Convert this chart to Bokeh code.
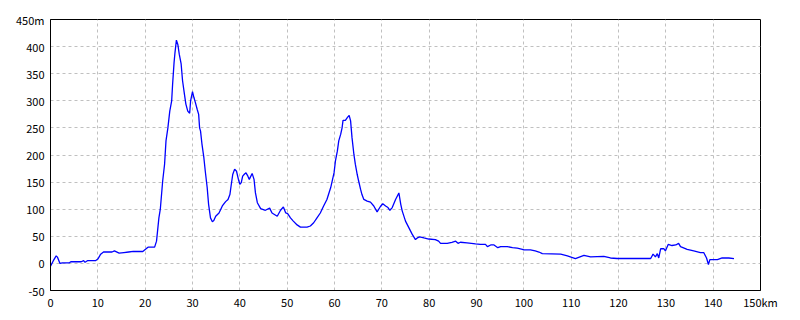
from bokeh.plotting import figure
from bokeh.models import Range1d, FixedTicker
from bokeh.embed import file_html
from bokeh.resources import INLINE

distance_km = [
    0.0, 0.6, 1.2, 1.5, 2.0, 2.5, 4.0, 4.3, 6.5, 7.0, 7.3, 7.8, 9.5, 10.0, 10.6, 11.2,
    13.0, 13.5, 14.5, 15.5, 16.5, 17.5, 19.5, 20.2, 20.6, 22.0, 22.4, 22.9, 23.2, 23.7,
    24.1, 24.4, 24.8, 25.2, 25.6, 25.8, 26.1, 26.3, 26.6, 26.9, 27.2, 27.6, 27.9, 28.3,
    28.6, 29.0, 29.4, 29.6, 30.0, 30.3, 30.6, 31.0, 31.3, 31.5, 31.7, 32.0, 32.4, 32.7,
    33.1, 33.4, 33.8, 34.2, 34.5, 34.9, 35.6, 36.3, 37.0, 37.5, 37.9, 38.2, 38.5, 38.9,
    39.3, 39.7, 40.0, 40.3, 40.6, 41.0, 41.3, 41.7, 42.0, 42.6, 43.0, 43.3, 43.7, 44.4,
    45.4, 46.3, 46.8, 47.9, 48.6, 49.2, 49.7, 50.1, 50.7, 51.3, 52.1, 52.8, 54.2, 54.9,
    55.6, 56.3, 57.0, 57.7, 58.4, 59.2, 59.9, 60.2, 60.6, 60.9, 61.3, 61.6, 61.8, 62.3,
    62.7, 63.1, 63.4, 63.7, 64.1, 64.4, 64.8, 65.1, 65.5, 65.8, 66.2, 66.9, 67.6, 68.3,
    69.0, 69.7, 70.2, 70.8, 71.3, 71.7, 72.2, 72.9, 73.6, 74.0, 74.3, 75.0, 75.7, 76.4,
    77.1, 77.5, 78.0, 78.9, 79.9, 81.3, 82.0, 82.4, 83.8, 84.8, 85.6, 86.1, 86.6, 88.0,
    89.8, 90.8, 91.9, 92.3, 93.0, 93.7, 94.5, 95.1, 96.5, 97.6, 98.6, 99.7, 100.0, 101.4,
    102.4, 103.2, 103.9, 107.8, 109.2, 110.9, 112.7, 114.1, 116.9, 118.3, 119.7, 126.8,
    127.3, 127.8, 128.2, 128.5, 128.9, 129.6, 129.9, 130.5, 131.3, 132.1, 132.7, 133.1,
    134.5, 135.9, 137.3, 138.0, 138.6, 139.0, 139.3, 140.9, 141.9, 143.3, 144.4,
]
elevation_m = [
    -5, 5, 14, 11, 0, 1, 1, 3, 3, 5, 2, 5, 5, 8, 17, 21,
    21, 23, 19, 20, 21, 22, 22, 27, 30, 30, 41, 84, 100, 152,
    183, 226, 250, 281, 300, 331, 370, 389, 412, 404, 386, 368, 337, 312,
    294, 281, 277, 300, 317, 306, 297, 284, 275, 250, 244, 220, 195, 170,
    140, 109, 84, 77, 79, 87, 93, 106, 114, 118, 127, 146, 164, 174,
    170, 155, 146, 149, 161, 165, 167, 161, 155, 166, 155, 130, 112, 101,
    98, 102, 93, 87, 98, 104, 93, 92, 84, 78, 71, 67, 67, 69,
    75, 84, 93, 106, 118, 140, 167, 189, 207, 226, 238, 250, 264, 264,
    269, 273, 263, 232, 201, 183, 164, 152, 137, 127, 118, 115, 113, 106,
    95, 105, 110, 106, 103, 98, 103, 118, 130, 109, 97, 78, 66, 54,
    44, 47, 49, 47, 45, 44, 41, 37, 37, 39, 41, 37, 39, 38,
    36, 35, 35, 31, 34, 34, 29, 31, 31, 29, 28, 26, 25, 25,
    23, 21, 18, 17, 14, 9, 15, 12, 13, 10, 9, 9,
    17, 12, 18, 10, 27, 27, 23, 35, 33, 34, 37, 31,
    26, 23, 20, 20, 10, -2, 7, 7, 10, 10, 9,
]

x_ticks = [0, 10, 20, 30, 40, 50, 60, 70, 80, 90, 100, 110, 120, 130, 140, 150]
x_tick_labels = ["0", "10", "20", "30", "40", "50", "60", "70", "80", "90",
                 "100", "110", "120", "130", "140", "150km"]
y_ticks = [-50, 0, 50, 100, 150, 200, 250, 300, 350, 400, 450]
y_tick_labels = ["-50", "0", "50", "100", "150", "200", "250", "300", "350", "400", "450m"]

FONT = "Noto Sans CJK JP"

p = figure(width=800, height=320, output_backend="svg", toolbar_location=None,
           x_range=Range1d(0, 150), y_range=Range1d(-50, 450),
           min_border_left=50, min_border_right=40, min_border_top=19, min_border_bottom=30)
p.background_fill_color = "white"
p.border_fill_color = "white"
p.outline_line_color = "black"
p.outline_line_width = 1

p.line(distance_km, elevation_m, line_color="#0000ff", line_width=1.3)

for ax, ticks, labels in ((p.xaxis[0], x_ticks, x_tick_labels), (p.yaxis[0], y_ticks, y_tick_labels)):
    ax.ticker = FixedTicker(ticks=ticks)
    ax.major_label_overrides = {t: l for t, l in zip(ticks, labels)}
    ax.minor_tick_line_color = None
    ax.major_tick_in = 0
    ax.major_tick_out = 0
    ax.axis_line_color = "black"
    ax.axis_line_width = 1
    ax.major_label_text_font = FONT
    ax.major_label_text_font_size = "11px"
    ax.major_label_text_color = "black"

p.xaxis[0].major_label_standoff = 3
p.yaxis[0].major_label_standoff = 6

for g in (p.xgrid[0], p.ygrid[0]):
    g.grid_line_color = "#c0c0c0"
    g.grid_line_dash = "3 3"
    g.grid_line_width = 1

open("out.html", "w").write(file_html(p, INLINE))
